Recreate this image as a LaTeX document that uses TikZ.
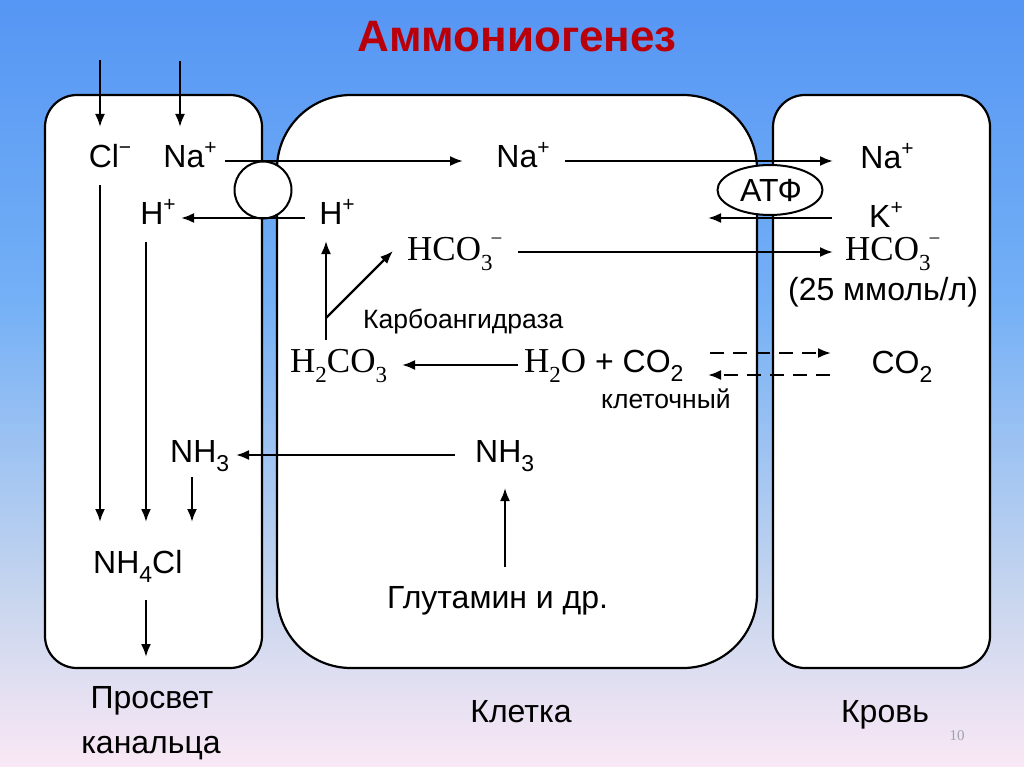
\documentclass[tikz,border=0pt]{standalone}
\usepackage{fontspec}
\setmainfont{Liberation Sans}
\newfontfamily\serx{Liberation Serif}
\usetikzlibrary{arrows.meta,shapes.geometric}
\definecolor{bgA}{RGB}{86,150,244}
\definecolor{bgB}{RGB}{116,176,246}
\definecolor{bgC}{RGB}{200,214,238}
\definecolor{bgD}{RGB}{250,232,245}
\definecolor{ttl}{RGB}{185,0,10}
\newcommand\upsc[1]{\raisebox{0.42em}{\fontsize{21}{21}\selectfont #1}}
\newcommand\dnsc[1]{\raisebox{-0.3em}{\fontsize{23}{23}\selectfont #1}}
\tikzset{
  lbl/.style={inner sep=0pt, font=\fontsize{32}{32}\selectfont},
  serlbl/.style={inner sep=0pt, font=\fontsize{35}{35}\selectfont\serx},
  smlbl/.style={inner sep=0pt, font=\fontsize{26.5}{26.5}\selectfont},
  boxx/.style={draw=black, line width=2.2pt, fill=white},
  arr/.style={line width=2.2pt, -{Latex[length=13pt,width=10pt]}},
  dasharr/.style={arr, dash pattern=on 14pt off 9pt},
}
\begin{document}
\begin{tikzpicture}[x=1pt,y=-1pt]
\useasboundingbox (0,0) rectangle (1024,767);
% background
\shade[top color=bgA, bottom color=bgB] (0,0) rectangle (1024,300.5);
\shade[top color=bgB, bottom color=bgC] (0,300) rectangle (1024,600.5);
\shade[top color=bgC, bottom color=bgD] (0,600) rectangle (1024,767);
% title
\node[inner sep=0pt, anchor=base, text=ttl, font=\fontsize{44}{44}\selectfont\bfseries] (title) at (517,52) {Аммониогенез};
% boxes
\draw[boxx, rounded corners=32pt] (45,95) rectangle (262,668);
\draw[boxx, rounded corners=74pt] (277,95) rectangle (757,668);
\draw[boxx, rounded corners=32pt] (773,95) rectangle (990,668);
% transporters
\node[circle, draw=black, line width=2pt, fill=white, minimum size=57pt, inner sep=0pt] (anti) at (263,190) {};
\node[ellipse, draw=black, line width=2pt, fill=white, minimum width=105pt, minimum height=50pt, inner sep=0pt] (atp) at (770,190) {};
\node[lbl, anchor=base] (atpt) at (771,202) {АТФ};
% labels lumen
\node[lbl, anchor=base] (clL) at (110,168) {Cl\upsc{−}};
\node[lbl, anchor=base] (naL) at (190,168) {Na\upsc{+}};
\node[lbl, anchor=base] (hL) at (158,225) {H\upsc{+}};
\node[lbl, anchor=base west] (nh3L) at (170,462) {NH\dnsc{3}};
\node[lbl, anchor=base west] (nh4cl) at (93,573) {NH\dnsc{4}Cl};
% labels cell
\node[lbl, anchor=base] (naC) at (523,168) {Na\upsc{+}};
\node[lbl, anchor=base] (hC) at (337,225) {H\upsc{+}};
\node[serlbl, anchor=base west] (hco3C) at (407,260) {HCO\dnsc{3}\upsc{\kern-0.1em−}};
\node[inner sep=0pt, anchor=base west, font=\fontsize{26.5}{26.5}\selectfont] (karbo) at (363,328) {Карбоангидраза};
\node[serlbl, anchor=base west] (h2co3) at (290,372) {H\dnsc{2}CO\dnsc{3}};
\node[lbl, anchor=base west] (h2o) at (524,372) {{\serx\fontsize{35}{35}\selectfont H\dnsc{2}O} + CO\dnsc{2}};
\node[smlbl, anchor=base west] (klet) at (601,408) {клеточный};
\node[lbl, anchor=base west] (nh3C) at (475,462) {NH\dnsc{3}};
\node[lbl, anchor=base west] (glut) at (387,608) {Глутамин и др.};
% labels blood
\node[lbl, anchor=base] (naB) at (887,169) {Na\upsc{+}};
\node[lbl, anchor=base] (kB) at (886,228) {K\upsc{+}};
\node[serlbl, anchor=base west] (hco3B) at (845,260) {HCO\dnsc{3}\upsc{\kern-0.1em−}};
\node[lbl, anchor=base] (mmol) at (883,300) {(25 ммоль/л)};
\node[lbl, anchor=base] (co2B) at (902,373) {CO\dnsc{2}};
% bottom labels
\node[lbl, anchor=base] (pros) at (152,708) {Просвет};
\node[lbl, anchor=base] (kan) at (151,753) {канальца};
\node[lbl, anchor=base] (kletka) at (521,722) {Клетка};
\node[lbl, anchor=base] (krov) at (885,722) {Кровь};
\node[inner sep=0pt, anchor=base, text={rgb,255:red,160;green,160;blue,175}, font=\fontsize{15}{15}\selectfont\serx] (pg) at (957,740) {10};
% arrow end points
\coordinate (a1s) at (100,60);  \coordinate (a1e) at (100,127);
\coordinate (a2s) at (180,61);  \coordinate (a2e) at (180,127);
\coordinate (a3s) at (225,161); \coordinate (a3e) at (463,161);
\coordinate (a4s) at (305,218); \coordinate (a4e) at (181,218);
\coordinate (a5s) at (100,185); \coordinate (a5e) at (100,522);
\coordinate (a6s) at (146,242); \coordinate (a6e) at (146,522);
\coordinate (a7s) at (192,477); \coordinate (a7e) at (192,522);
\coordinate (a8s) at (146,600); \coordinate (a8e) at (146,657);
\coordinate (a9s) at (455,455); \coordinate (a9e) at (236,455);
\coordinate (a10s) at (505,567); \coordinate (a10e) at (505,488);
\coordinate (a11s) at (326,340); \coordinate (a11e) at (326,241);
\coordinate (a12s) at (326,318); \coordinate (a12e) at (393,251);
\coordinate (a13s) at (518,365); \coordinate (a13e) at (402,365);
\coordinate (a14s) at (565,161); \coordinate (a14e) at (833,161);
\coordinate (a15s) at (832,218); \coordinate (a15e) at (708,218);
\coordinate (a16s) at (518,252); \coordinate (a16e) at (833,252);
\coordinate (a17s) at (710,353); \coordinate (a17e) at (831,353);
\coordinate (a18s) at (830,375); \coordinate (a18e) at (708,375);
% arrows
\foreach \i in {1,...,16} {\draw[arr] (a\i s) -- (a\i e);}
\draw[dasharr] (a17s) -- (a17e);
\draw[dasharr] (a18s) -- (a18e);
\end{tikzpicture}
\end{document}
